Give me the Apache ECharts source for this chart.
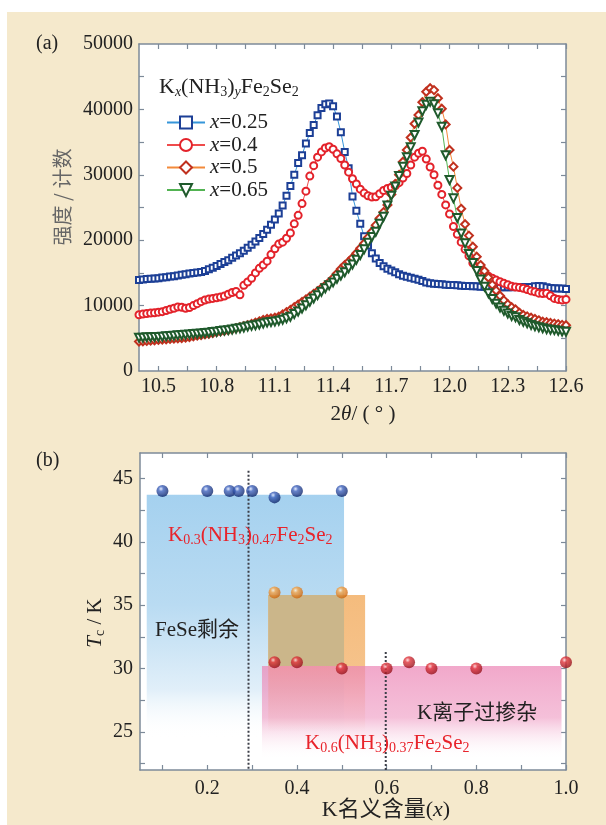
<!DOCTYPE html>
<html>
<head>
<meta charset="utf-8">
<title>KxNH3yFe2Se2</title>
<script src="https://cdn.jsdelivr.net/npm/echarts@6.0.0/dist/echarts.min.js"></script>
<style>
  html, body { margin: 0; padding: 0; background: #fff; }
  #chart { width: 606px; height: 825px; }
</style>
</head>
<body>
<div id="chart"></div>
<script>
// (a) XRD 数据: 2θ 与 4 个样品的强度
var theta = [
  10.40,10.42,10.44,10.46,10.48,10.50,10.52,10.54,10.56,10.58,
  10.60,10.62,10.64,10.66,10.68,10.70,10.72,10.74,10.76,10.78,
  10.80,10.82,10.84,10.86,10.88,10.90,10.92,10.94,10.96,10.98,
  11.00,11.02,11.04,11.06,11.08,11.10,11.12,11.14,11.16,11.18,
  11.20,11.22,11.24,11.26,11.28,11.30,11.32,11.34,11.36,11.38,
  11.40,11.42,11.44,11.46,11.48,11.50,11.52,11.54,11.56,11.58,
  11.60,11.62,11.64,11.66,11.68,11.70,11.72,11.74,11.76,11.78,
  11.80,11.82,11.84,11.86,11.88,11.90,11.92,11.94,11.96,11.98,
  12.00,12.02,12.04,12.06,12.08,12.10,12.12,12.14,12.16,12.18,
  12.20,12.22,12.24,12.26,12.28,12.30,12.32,12.34,12.36,12.38,
  12.40,12.42,12.44,12.46,12.48,12.50,12.52,12.54,12.56,12.58,
  12.60
];
var int025 = [
  13900,14000,14050,14100,14150,14200,14300,14350,14450,14500,
  14600,14700,14800,14900,15000,15050,15150,15300,15550,15800,
  16050,16350,16650,16950,17300,17650,18000,18400,18850,19300,
  19800,20350,20950,21600,22350,23150,24100,25300,26800,28300,
  30000,31800,33000,34800,36400,37600,39100,40200,40800,40900,
  40500,38900,36500,33500,31000,26700,24500,22500,20600,19200,
  18000,17200,16500,16000,15650,15350,15100,14800,14550,14400,
  14250,14100,13950,13750,13550,13400,13350,13300,13250,13200,
  13150,13150,13100,13050,13000,13000,12950,12950,12900,12900,
  12850,12850,12800,12800,12800,12800,12800,12850,12850,12850,
  12800,12850,12950,13000,12950,12800,12700,12650,12600,12600,
  12550
];
var int04 = [
  8600,8700,8800,8850,8900,9000,9070,9250,9430,9600,
  9800,9750,9600,9700,10000,10300,10600,10850,11000,11100,
  11200,11300,11450,11750,12000,12150,11650,13100,13600,14170,
  15000,15700,16200,16800,17800,18700,19400,19700,20300,21100,
  22500,23800,25600,27500,29800,31400,32700,33500,34100,34300,
  33900,33200,32500,31500,30400,29400,28600,27800,27200,26800,
  26600,26650,27100,27600,27900,28100,28300,28800,29500,30200,
  31500,32700,33300,33600,32400,31200,30000,28400,27000,25400,
  24000,22100,20900,19700,18600,17600,16500,15900,15400,14900,
  14500,14200,13900,13650,13400,13200,12950,12850,12750,12650,
  12450,12250,12100,11900,11850,11880,11500,11100,10950,10850,
  10950
];
var int05 = [
  4500,4550,4600,4650,4700,4750,4800,4850,4900,4950,
  5000,5050,5100,5200,5300,5400,5500,5600,5700,5800,
  5950,6050,6150,6250,6400,6550,6700,6850,7000,7200,
  7400,7600,7800,7950,8050,8150,8300,8650,9000,9330,
  9750,10150,10550,10950,11360,11800,12200,12650,13100,13600,
  14200,14900,15600,16200,16700,17300,18000,18760,19500,20400,
  21300,22300,23350,24300,25400,27000,28600,30000,32000,33800,
  35700,37800,39140,41100,42700,43230,42950,41700,40100,37700,
  33800,31250,28000,24800,22450,20700,19000,17480,16200,15300,
  14300,13200,12300,11500,10800,10200,9750,9400,8900,8560,
  8350,8150,7950,7750,7540,7450,7350,7250,7150,7050,
  7000
];
var int065 = [
  5100,5100,5150,5150,5200,5200,5250,5300,5350,5400,
  5450,5500,5550,5600,5650,5700,5750,5800,5850,5950,
  6000,6100,6200,6250,6350,6450,6550,6650,6800,6900,
  7000,7100,7250,7400,7500,7550,7700,7850,8050,8300,
  8700,9100,9550,10050,10600,11100,11600,12100,12650,13100,
  13550,14100,14600,15100,15700,16300,17000,17740,18600,19600,
  20500,21300,22500,23590,25300,26800,28200,29800,31250,32700,
  34200,36090,38000,39700,40700,41180,40800,39400,37360,33000,
  29200,26400,23400,21040,19520,17900,16500,15300,14000,12900,
  11900,11000,10300,9700,9200,8800,8400,8200,7800,7540,
  7300,7050,6850,6700,6530,6400,6300,6250,6150,6050,
  6000
];
var seriesNames = ['x=0.25', 'x=0.4', 'x=0.5', 'x=0.65'];
var thetaLabels = [10.5, 10.8, 11.1, 11.4, 11.7, 12.0, 12.3, 12.6];
var thetaTicks = [10.5, 10.65, 10.8, 10.95, 11.1, 11.25, 11.4, 11.55, 11.7, 11.85, 12.0, 12.15, 12.3, 12.45, 12.6];
var countLabels = [0, 10000, 20000, 30000, 40000, 50000];
var countTicks = [5000, 10000, 15000, 20000, 25000, 30000, 35000, 40000, 45000];

// (b) Tc 与 K 名义含量
var blueX = [0.1, 0.2, 0.25, 0.27, 0.3, 0.35, 0.4, 0.5];
var blueTc = [44, 44, 44, 44, 44, 43.5, 44, 44];
var orangeX = [0.35, 0.4, 0.5];
var orangeTc = [36, 36, 36];
var redX = [0.35, 0.4, 0.5, 0.6, 0.65, 0.7, 0.8, 1.0];
var redTc = [30.5, 30.5, 30, 30, 30.5, 30, 30, 30.5];
// 色块 [x1, Tc上, x2, Tc下]
var blueBox = [0.065, 43.7, 0.505, 24.5];
var orangeBox = [0.336, 35.8, 0.552, 25];
var mixBox = [0.336, 35.8, 0.505, 30.2];
var pinkBox = [0.322, 30.2, 0.99, 22.8];
var dotX = [0.292, 0.598];
var dotTop = [45.6, 31.3];
var kLabels = [0.2, 0.4, 0.6, 0.8, 1.0];
var kTicks = [0.1, 0.2, 0.3, 0.4, 0.5, 0.6, 0.7, 0.8, 0.9, 1.0];
var tcLabels = [25, 30, 35, 40, 45];
var tcTicks = [22.5, 25, 27.5, 30, 32.5, 35, 37.5, 40, 42.5, 45];

var serif = '"Liberation Serif", "Noto Sans CJK SC", serif';
var cjk = '"Noto Sans CJK SC", sans-serif';
var frame = '#7d8a99';
var ink = '#222';
var red = '#e8232b';
var subStyle = { fontFamily: serif, fontSize: 14, padding: [10, 0, 0, 0] };
var subItalic = { fontFamily: serif, fontSize: 14, fontStyle: 'italic', padding: [10, 0, 0, 0] };
var italic = { fontFamily: serif, fontSize: 21, fontStyle: 'italic' };

function zip(xs, ys) {
    var out = [];
    for (var i = 0; i < xs.length; i++) out.push([xs[i], ys[i]]);
    return out;
}

function mkAxis(grid, pos, min, max, labels, ticks, showLabel, fmt, margin) {
    return {
        type: 'value', gridIndex: grid, position: pos, min: min, max: max,
        axisLine: { show: true, onZero: false, lineStyle: { color: frame, width: 1.5 } },
        axisTick: { show: true, inside: true, length: 5, customValues: ticks, lineStyle: { color: frame, width: 1.2 } },
        axisLabel: { show: showLabel, customValues: labels, margin: margin, color: ink,
            fontFamily: serif, fontSize: 20, formatter: fmt },
        splitLine: { show: false }
    };
}

function sphere(light, mid, dark) {
    return { type: 'radial', x: 0.38, y: 0.32, r: 0.7,
        colorStops: [{ offset: 0, color: light }, { offset: 0.3, color: mid }, { offset: 1, color: dark }] };
}

function boxRender(fill) {
    return function(params, api) {
        var p1 = api.coord([api.value(0), api.value(1)]);
        var p2 = api.coord([api.value(2), api.value(3)]);
        return { type: 'rect', shape: { x: p1[0], y: p1[1], width: p2[0] - p1[0], height: p2[1] - p1[1] },
            style: { fill: fill } };
    };
}

function boxSeries(box, fill) {
    return { type: 'custom', xAxisIndex: 2, yAxisIndex: 2, silent: true, z: 1,
        encode: { x: [0, 2], y: [1, 3] }, data: [box], renderItem: boxRender(fill) };
}

var grad = echarts.graphic.LinearGradient;
var fmt1 = function(v) { return v.toFixed(1); };
var fmt0 = function(v) { return String(v); };

var curves = [
    { data: int025, symbol: 'emptyRect', size: 6, color: '#1c3f96', line: '#3596da', rot: 0 },
    { data: int04, symbol: 'emptyCircle', size: 7, color: '#e3222a', line: '#ef4b4b', rot: 0 },
    { data: int05, symbol: 'emptyDiamond', size: 8, color: '#c0301e', line: '#f38a3a', rot: 0 },
    { data: int065, symbol: 'emptyTriangle', size: 8, color: '#1f5a2c', line: '#52b352', rot: 180 }
];

var series = [];
for (var i = 0; i < curves.length; i++) {
    var c = curves[i];
    series.push({
        name: seriesNames[i], type: 'line', xAxisIndex: 0, yAxisIndex: 0,
        data: zip(theta, c.data), symbol: c.symbol, symbolSize: c.size, symbolRotate: c.rot,
        showAllSymbol: true,
        itemStyle: { color: c.color, borderWidth: 1.6 },
        lineStyle: { color: c.line, width: 1 },
        z: 2 + i
    });
}

series.push(boxSeries(blueBox, new grad(0, 0, 0, 1, [
    { offset: 0, color: 'rgba(165,209,239,1)' }, { offset: 0.45, color: 'rgba(185,219,242,1)' },
    { offset: 0.8, color: 'rgba(225,239,249,1)' }, { offset: 1, color: 'rgba(255,255,255,0)' }])));
series.push(boxSeries(orangeBox, new grad(0, 0, 0, 1, [
    { offset: 0, color: 'rgba(244,184,118,0.95)' }, { offset: 0.55, color: 'rgba(244,184,118,0.85)' },
    { offset: 1, color: 'rgba(244,184,118,0)' }])));
series.push(boxSeries(mixBox, 'rgba(203,182,138,1)'));
series.push(boxSeries(pinkBox, new grad(0, 0, 0, 1, [
    { offset: 0, color: 'rgba(236,135,182,0.72)' }, { offset: 0.55, color: 'rgba(238,150,192,0.6)' },
    { offset: 1, color: 'rgba(255,255,255,0)' }])));

for (var j = 0; j < dotX.length; j++) {
    series.push({ type: 'line', xAxisIndex: 2, yAxisIndex: 2, symbol: 'none', silent: true, z: 3,
        data: [[dotX[j], dotTop[j]], [dotX[j], 22]],
        lineStyle: { color: '#3c3f48', width: 2, type: [2, 2] } });
}

var dots = [
    { x: blueX, y: blueTc, color: sphere('#dfe8ff', '#3f63bd', '#0c2265') },
    { x: orangeX, y: orangeTc, color: sphere('#fff0d8', '#f4a347', '#c8620c') },
    { x: redX, y: redTc, color: sphere('#ffd8d8', '#e0343b', '#92101a') }
];
for (var k = 0; k < dots.length; k++) {
    series.push({ type: 'scatter', xAxisIndex: 2, yAxisIndex: 2, z: 5,
        data: zip(dots[k].x, dots[k].y), symbolSize: 12, itemStyle: { color: dots[k].color } });
}

var chart = echarts.init(document.getElementById('chart'), null, { renderer: 'canvas' });
var option = {
    backgroundColor: '#fff',
    animation: false,
    grid: [
        { left: 139, top: 44, width: 427, height: 327, show: true, backgroundColor: '#fff', borderWidth: 0 },
        { left: 140, top: 453, width: 426, height: 317, show: true, backgroundColor: '#fff', borderWidth: 0 }
    ],
    xAxis: [
        mkAxis(0, 'bottom', 10.4, 12.6, thetaLabels, thetaTicks, true, fmt1, 6),
        mkAxis(0, 'top', 10.4, 12.6, thetaLabels, thetaTicks, false, fmt1, 6),
        mkAxis(1, 'bottom', 0.05, 1.0, kLabels, kTicks, true, fmt1, 9),
        mkAxis(1, 'top', 0.05, 1.0, kLabels, kTicks, false, fmt1, 9)
    ],
    yAxis: [
        mkAxis(0, 'left', 0, 50000, countLabels, countTicks, true, fmt0, 6),
        mkAxis(0, 'right', 0, 50000, countLabels, countTicks, false, fmt0, 6),
        mkAxis(1, 'left', 22, 47, tcLabels, tcTicks, true, fmt0, 7),
        mkAxis(1, 'right', 22, 47, tcLabels, tcTicks, false, fmt0, 7)
    ],
    legend: {
        data: seriesNames, orient: 'vertical', left: 161, top: 107,
        itemWidth: 38, itemHeight: 15, itemGap: 1.5,
        itemStyle: { borderWidth: 2.5 },
        formatter: function(name) { return '{i|x}' + name.slice(1); },
        textStyle: { color: ink, fontFamily: serif, fontSize: 21, lineHeight: 20, rich: { i: italic } }
    },
    series: series,
    graphic: [
        { type: 'rect', z: -10, shape: { x: 7, y: 12, width: 599, height: 813 }, style: { fill: '#f5e9cc' } },
        { type: 'text', left: 36, top: 34, style: { text: '(a)', font: '20px ' + serif, fill: ink } },
        { type: 'text', left: 36, top: 451, style: { text: '(b)', font: '20px ' + serif, fill: ink } },
        { type: 'text', x: 159, y: 87, z: 10, style: { text: 'K{si|x}(NH{s|3}){si|y}Fe{s|2}Se{s|2}',
            font: '22px ' + serif, fill: ink, verticalAlign: 'middle', rich: { s: subStyle, si: subItalic } } },
        { type: 'text', x: 62, y: 197, rotation: Math.PI / 2, style: { text: '强度 / 计数', font: '20px ' + cjk,
            fill: '#666', align: 'center', verticalAlign: 'middle' } },
        { type: 'text', x: 363, y: 414, style: { text: '2{i|θ}/ ( ° )', font: '21px ' + serif, fill: ink,
            align: 'center', verticalAlign: 'middle', rich: { i: italic } } },
        { type: 'text', x: 95, y: 623, rotation: Math.PI / 2, style: { text: '{i|T}{s|c} / K', font: '21px ' + serif,
            fill: ink, align: 'center', verticalAlign: 'middle', rich: { i: italic, s: subStyle } } },
        { type: 'text', x: 386, y: 810, style: { text: 'K名义含量({i|x})', font: '22px ' + serif, fill: ink,
            align: 'center', verticalAlign: 'middle', rich: { i: { fontFamily: serif, fontSize: 22, fontStyle: 'italic' } } } },
        { type: 'text', x: 168, y: 535, z: 10, style: { text: 'K{s|0.3}(NH{s|3}){s|0.47}Fe{s|2}Se{s|2}',
            font: '21px ' + serif, fill: red, verticalAlign: 'middle',
            rich: { s: { fontFamily: serif, fontSize: 14, padding: [10, 0, 0, 0], color: red } } } },
        { type: 'text', x: 305, y: 743, z: 10, style: { text: 'K{s|0.6}(NH{s|3}){s|0.37}Fe{s|2}Se{s|2}',
            font: '21px ' + serif, fill: red, verticalAlign: 'middle',
            rich: { s: { fontFamily: serif, fontSize: 14, padding: [10, 0, 0, 0], color: red } } } },
        { type: 'text', x: 155, y: 630, z: 10, style: { text: 'FeSe剩余', font: '21px ' + serif, fill: ink, verticalAlign: 'middle' } },
        { type: 'text', x: 417, y: 713, z: 10, style: { text: 'K离子过掺杂', font: '21px ' + serif, fill: ink, verticalAlign: 'middle' } }
    ]
};
chart.setOption(option);
window.onresize = function() {
    chart.resize();
};
</script>
</body>
</html>
